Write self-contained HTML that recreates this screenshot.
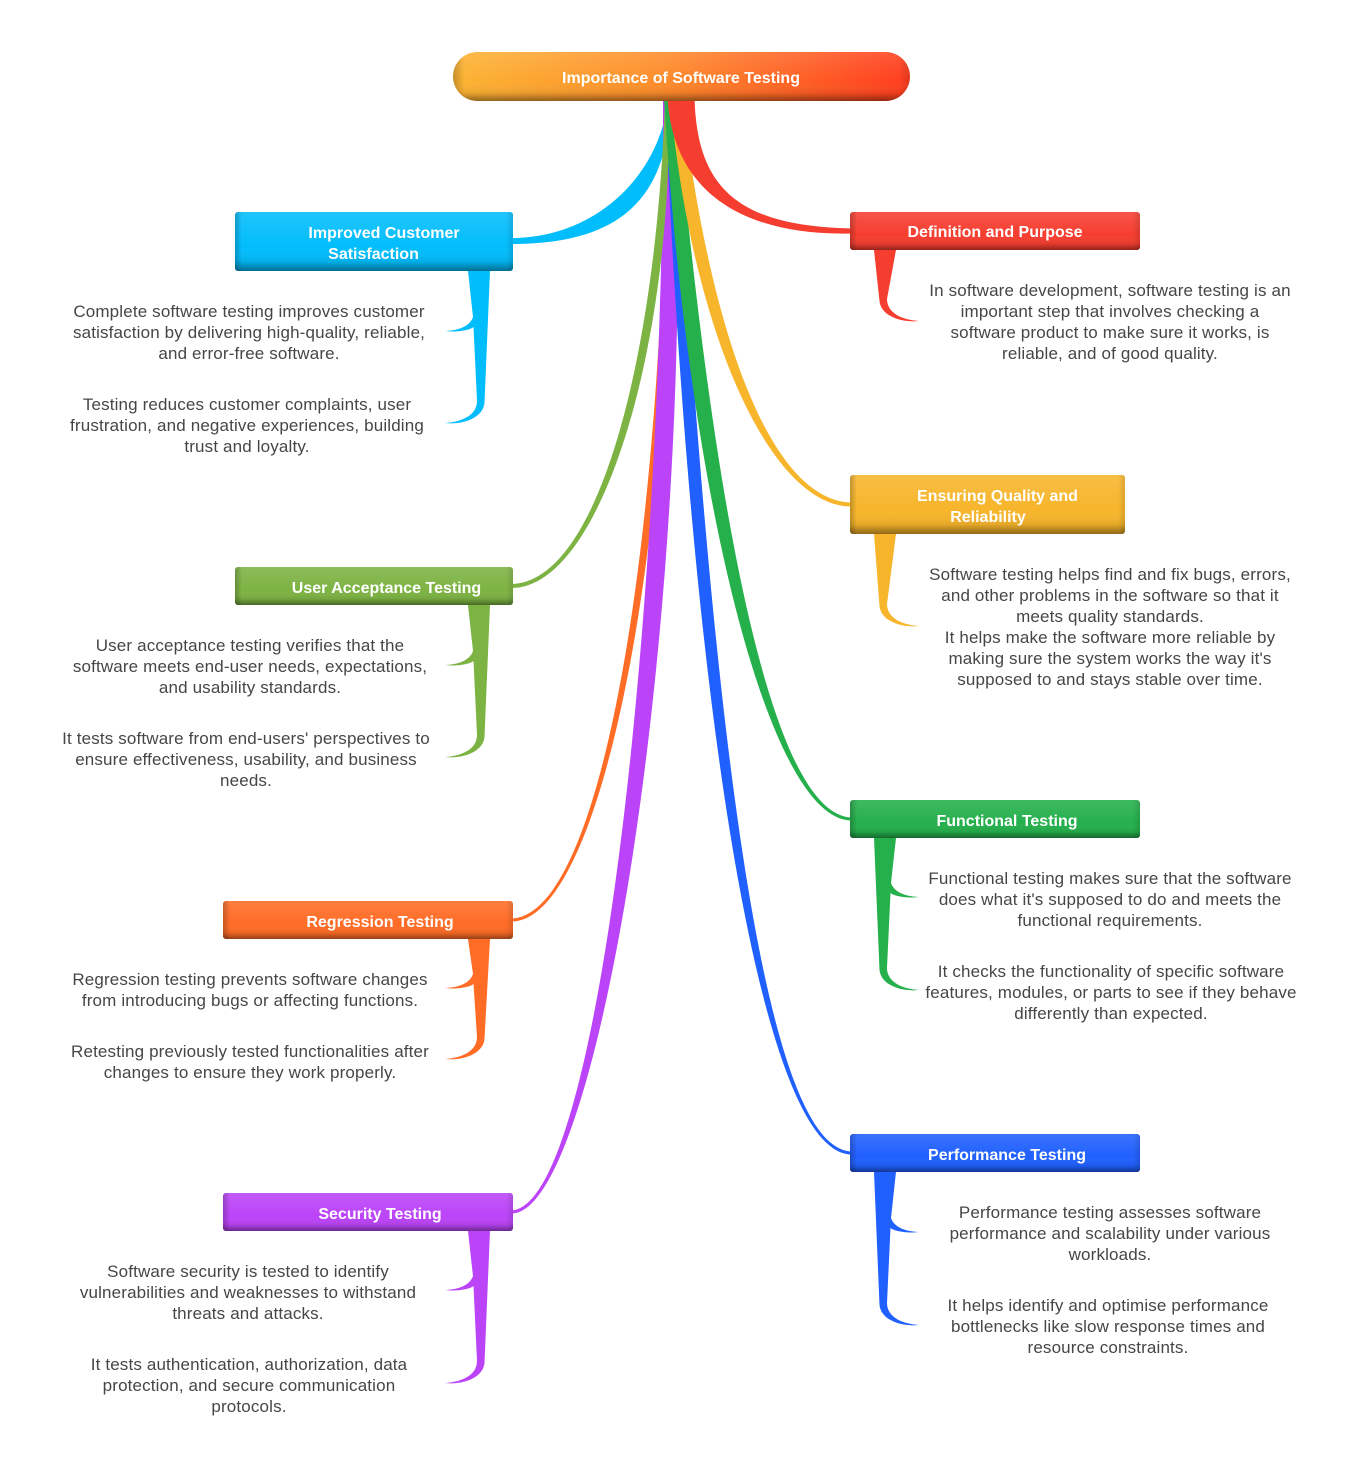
<!DOCTYPE html>
<html>
<head>
<meta charset="utf-8">
<style>
html,body{margin:0;padding:0;background:#fff;}
svg{display:block;}
.t{font-family:"Liberation Sans",Arial,sans-serif;font-weight:bold;font-size:16px;fill:#fff;text-anchor:middle;}
.l{font-family:"Liberation Sans",Arial,sans-serif;font-size:17px;fill:#464646;text-anchor:middle;letter-spacing:0.15px;}
</style>
</head>
<body>
<svg width="1364" height="1469" viewBox="0 0 1364 1469" xmlns="http://www.w3.org/2000/svg">
<defs>
<linearGradient id="shade" x1="0" y1="0" x2="0" y2="1">
<stop offset="0" stop-color="#fff" stop-opacity="0.12"/>
<stop offset="0.6" stop-color="#fff" stop-opacity="0"/>
<stop offset="0.84" stop-color="#000" stop-opacity="0.08"/>
<stop offset="1" stop-color="#000" stop-opacity="0.42"/>
</linearGradient>
<linearGradient id="side" x1="0" y1="0" x2="1" y2="0">
<stop offset="0" stop-color="#000" stop-opacity="0.22"/>
<stop offset="0.025" stop-color="#000" stop-opacity="0"/>
<stop offset="0.975" stop-color="#000" stop-opacity="0"/>
<stop offset="1" stop-color="#000" stop-opacity="0.12"/>
</linearGradient>
<linearGradient id="rootg" x1="0" y1="0" x2="1" y2="0">
<stop offset="0" stop-color="#FCB433"/>
<stop offset="0.45" stop-color="#FE8D2B"/>
<stop offset="1" stop-color="#FF3C1E"/>
</linearGradient>
</defs>

<!-- main branches -->
<path fill="#02BDFC" d="M668,98 C662,170 600,238 511,238 L511,244 C600,244 670,215 670,98 Z"/>
<path fill="#FF6C26" d="M670,98 C679,520 605,923 511,921.5 L511,918.5 C605,917 665,520 666,98 Z"/>
<path fill="#BB44F8" d="M675,98 C696,600 600,1216 511,1213.5 L511,1210.5 C600,1208 664,600 663,98 Z"/>
<path fill="#2060FE" d="M665,98 C690,700 760,1156 852,1154.5 L852,1151.5 C760,1150 710,700 675,98 Z"/>
<path fill="#7DB343" d="M669,98 C673,350 600,589 511,588 L511,584 C600,583 657,350 665,98 Z"/>
<path fill="#25B04C" d="M664,98 C688,500 770,822 852,820.5 L852,817.5 C770,816 712,500 676,98 Z"/>
<path fill="#F7B52B" d="M670,98 C691,330 770,507.5 852,506.5 L852,502.5 C770,501.5 709,330 682,98 Z"/>
<path fill="#F63E30" d="M667.5,98 C673,190 740,236 852,233.5 L852,228.5 C740,226 697,190 694.5,98 Z"/>

<!-- right trunks -->
<path fill="#F63E30" d="M874,250 L896,250 L887,299 C887,313 902,320 919,321 C901,323 881,316 879.5,301 Z"/>
<path fill="#F7B52B" d="M874,534 L896,534 L887,604 C887,618 902,625 919,626 C901,628 881,621 879.5,606 Z"/>
<path fill="#25B04C" d="M874,838 L896,838 L891,883 C894,892 905,896.5 919,897 C906,898.5 894,896 890.5,893 L887,968 C887,982 902,989 919,990 C901,992 881,985 879.5,970 Z"/>
<path fill="#2060FE" d="M874,1172 L896,1172 L891,1218 C894,1227 905,1231.5 919,1232 C906,1233.5 894,1231 890.5,1228 L887,1303 C887,1317 902,1324 919,1325 C901,1327 881,1320 879.5,1305 Z"/>

<!-- left trunks (mirrored) -->
<g transform="matrix(-1,0,0,1,1364,0)">
<path fill="#02BDFC" d="M874,271 L896,271 L891,317 C894,326 905,330.5 919,331 C906,332.5 894,330 890.5,327 L887,401 C887,415 902,422 919,423 C901,425 881,418 879.5,403 Z"/>
<path fill="#7DB343" d="M874,605 L896,605 L891,651 C894,660 905,664.5 919,665 C906,666.5 894,664 890.5,661 L887,735 C887,749 902,756 919,757 C901,759 881,752 879.5,737 Z"/>
<path fill="#FF6C26" d="M874,939 L896,939 L891,974 C894,983 905,987.5 919,988 C906,989.5 894,987 890.5,984 L887,1037 C887,1051 902,1058 919,1059 C901,1061 881,1054 879.5,1039 Z"/>
<path fill="#BB44F8" d="M874,1231 L896,1231 L891,1276 C894,1285 905,1289.5 919,1290 C906,1291.5 894,1289 890.5,1286 L887,1361 C887,1375 902,1382 919,1383 C901,1385 881,1378 879.5,1363 Z"/>
</g>

<!-- root -->
<rect x="453" y="52" width="457" height="49" rx="24.5" fill="url(#rootg)"/>
<rect x="453" y="52" width="457" height="49" rx="24.5" fill="url(#shade)"/>
<rect x="453" y="52" width="457" height="49" rx="24.5" fill="url(#side)"/>
<text class="t" x="681" y="83">Importance of Software Testing</text>

<!-- nodes -->
<g>
<rect x="235" y="212" width="278" height="59" rx="3" fill="#02BDFC"/>
<rect x="235" y="212" width="278" height="59" rx="3" fill="url(#shade)"/>
<rect x="235" y="212" width="278" height="59" rx="3" fill="url(#side)"/>
<text class="t" x="384" y="238">Improved Customer</text>
<text class="t" x="373.5" y="259">Satisfaction</text>

<rect x="850" y="212" width="290" height="38" rx="3" fill="#F63E30"/>
<rect x="850" y="212" width="290" height="38" rx="3" fill="url(#shade)"/>
<rect x="850" y="212" width="290" height="38" rx="3" fill="url(#side)"/>
<text class="t" x="995" y="237">Definition and Purpose</text>

<rect x="850" y="475" width="275" height="59" rx="3" fill="#F7B52B"/>
<rect x="850" y="475" width="275" height="59" rx="3" fill="url(#shade)"/>
<rect x="850" y="475" width="275" height="59" rx="3" fill="url(#side)"/>
<text class="t" x="997.5" y="501">Ensuring Quality and</text>
<text class="t" x="988" y="522">Reliability</text>

<rect x="235" y="567" width="278" height="38" rx="3" fill="#7DB343"/>
<rect x="235" y="567" width="278" height="38" rx="3" fill="url(#shade)"/>
<rect x="235" y="567" width="278" height="38" rx="3" fill="url(#side)"/>
<text class="t" x="386.5" y="593">User Acceptance Testing</text>

<rect x="850" y="800" width="290" height="38" rx="3" fill="#25B04C"/>
<rect x="850" y="800" width="290" height="38" rx="3" fill="url(#shade)"/>
<rect x="850" y="800" width="290" height="38" rx="3" fill="url(#side)"/>
<text class="t" x="1007" y="826">Functional Testing</text>

<rect x="223" y="901" width="290" height="38" rx="3" fill="#FF6C26"/>
<rect x="223" y="901" width="290" height="38" rx="3" fill="url(#shade)"/>
<rect x="223" y="901" width="290" height="38" rx="3" fill="url(#side)"/>
<text class="t" x="380" y="927">Regression Testing</text>

<rect x="850" y="1134" width="290" height="38" rx="3" fill="#2060FE"/>
<rect x="850" y="1134" width="290" height="38" rx="3" fill="url(#shade)"/>
<rect x="850" y="1134" width="290" height="38" rx="3" fill="url(#side)"/>
<text class="t" x="1007" y="1160">Performance Testing</text>

<rect x="223" y="1193" width="290" height="38" rx="3" fill="#BB44F8"/>
<rect x="223" y="1193" width="290" height="38" rx="3" fill="url(#shade)"/>
<rect x="223" y="1193" width="290" height="38" rx="3" fill="url(#side)"/>
<text class="t" x="380" y="1219">Security Testing</text>
</g>

<!-- right leaf texts -->
<text class="l" x="1110" y="296">In software development, software testing is an</text>
<text class="l" x="1110" y="317">important step that involves checking a</text>
<text class="l" x="1110" y="338">software product to make sure it works, is</text>
<text class="l" x="1110" y="359">reliable, and of good quality.</text>

<text class="l" x="1110" y="580">Software testing helps find and fix bugs, errors,</text>
<text class="l" x="1110" y="601">and other problems in the software so that it</text>
<text class="l" x="1110" y="622">meets quality standards.</text>
<text class="l" x="1110" y="643">It helps make the software more reliable by</text>
<text class="l" x="1110" y="664">making sure the system works the way it's</text>
<text class="l" x="1110" y="685">supposed to and stays stable over time.</text>

<text class="l" x="1110" y="884">Functional testing makes sure that the software</text>
<text class="l" x="1110" y="905">does what it's supposed to do and meets the</text>
<text class="l" x="1110" y="926">functional requirements.</text>
<text class="l" x="1111" y="977">It checks the functionality of specific software</text>
<text class="l" x="1111" y="998">features, modules, or parts to see if they behave</text>
<text class="l" x="1111" y="1019">differently than expected.</text>

<text class="l" x="1110" y="1218">Performance testing assesses software</text>
<text class="l" x="1110" y="1239">performance and scalability under various</text>
<text class="l" x="1110" y="1260">workloads.</text>
<text class="l" x="1108" y="1311">It helps identify and optimise performance</text>
<text class="l" x="1108" y="1332">bottlenecks like slow response times and</text>
<text class="l" x="1108" y="1353">resource constraints.</text>

<!-- left leaf texts -->
<text class="l" x="249" y="317">Complete software testing improves customer</text>
<text class="l" x="249" y="338">satisfaction by delivering high-quality, reliable,</text>
<text class="l" x="249" y="359">and error-free software.</text>
<text class="l" x="247" y="410">Testing reduces customer complaints, user</text>
<text class="l" x="247" y="431">frustration, and negative experiences, building</text>
<text class="l" x="247" y="452">trust and loyalty.</text>

<text class="l" x="250" y="651">User acceptance testing verifies that the</text>
<text class="l" x="250" y="672">software meets end-user needs, expectations,</text>
<text class="l" x="250" y="693">and usability standards.</text>
<text class="l" x="246" y="744">It tests software from end-users' perspectives to</text>
<text class="l" x="246" y="765">ensure effectiveness, usability, and business</text>
<text class="l" x="246" y="786">needs.</text>

<text class="l" x="250" y="985">Regression testing prevents software changes</text>
<text class="l" x="250" y="1006">from introducing bugs or affecting functions.</text>
<text class="l" x="250" y="1057">Retesting previously tested functionalities after</text>
<text class="l" x="250" y="1078">changes to ensure they work properly.</text>

<text class="l" x="248" y="1277">Software security is tested to identify</text>
<text class="l" x="248" y="1298">vulnerabilities and weaknesses to withstand</text>
<text class="l" x="248" y="1319">threats and attacks.</text>
<text class="l" x="249" y="1370">It tests authentication, authorization, data</text>
<text class="l" x="249" y="1391">protection, and secure communication</text>
<text class="l" x="249" y="1412">protocols.</text>
</svg>
</body>
</html>
